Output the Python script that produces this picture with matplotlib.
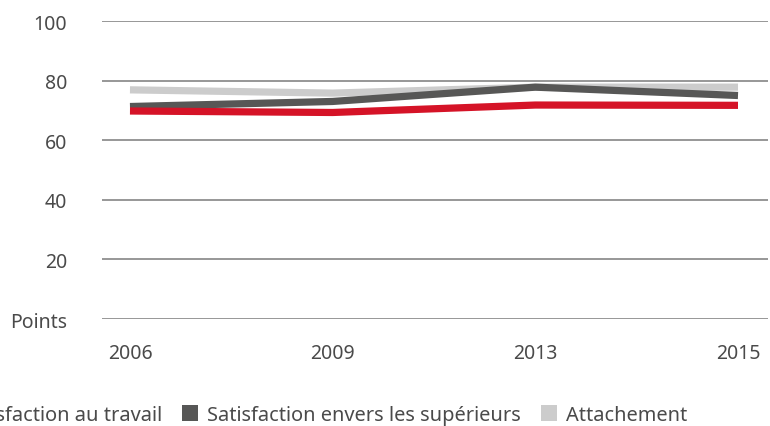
import matplotlib
matplotlib.use("Agg")
import matplotlib.pyplot as plt
from matplotlib.patches import Patch

plt.rcParams['font.family'] = ['Noto Sans', 'DejaVu Sans']

years = ['2006', '2009', '2013', '2015']
travail = [69.8, 69.3, 71.8, 71.7]
superieurs = [71.3, 73.0, 77.8, 75.0]
attachement = [76.9, 75.8, 77.8, 77.8]

series_names = ['Satisfaction au travail', 'Satisfaction envers les supérieurs', 'Attachement']
colors = ['#d51327', '#575756', '#cccccc']

text_color = '#4a4a4a'

fig = plt.figure(figsize=(7.70, 4.27), dpi=100)
ax = fig.add_axes([102 / 770, 1 - 320 / 427, 666 / 770, 298 / 427])

x = range(len(years))
# lightest line first so the others sit on top of it
ax.plot(x, attachement, color=colors[2], lw=5.2, solid_capstyle='butt', zorder=3)
ax.plot(x, superieurs, color=colors[1], lw=5.2, solid_capstyle='butt', zorder=4)
ax.plot(x, travail, color=colors[0], lw=5.2, solid_capstyle='butt', zorder=5)

ax.set_xlim(-0.138, 3.148)
ax.set_ylim(0, 100)
ax.set_yticks([0, 20, 40, 60, 80, 100])
ax.set_yticklabels(['Points', '20', '40', '60', '80', '100'])
ax.set_xticks(list(x))
ax.set_xticklabels(years)
ax.yaxis.grid(True, color='#7a7a7a', lw=1.1)
ax.set_axisbelow(True)
for s in ax.spines.values():
    s.set_visible(False)
ax.tick_params(axis='both', length=0, labelsize=14, labelcolor=text_color)
ax.tick_params(axis='y', pad=25)
ax.tick_params(axis='x', pad=17)

handles = [Patch(facecolor=c, edgecolor='none') for c in colors]
leg_y = 0.026
leg = fig.legend(handles, series_names, ncol=3, loc='center left',
                 bbox_to_anchor=(0, leg_y), frameon=False, fontsize=14.4,
                 labelcolor=text_color, handlelength=0.8, handleheight=0.8,
                 handletextpad=0.45, columnspacing=1.0, borderaxespad=0)

# slide the legend left so the second label starts at x = 207 px
fig.canvas.draw()
x_second = leg.get_texts()[1].get_window_extent().x0
shift = (207 - x_second) / fig.bbox.width
leg.set_bbox_to_anchor((shift, leg_y), transform=fig.transFigure)

fig.savefig('out.png', dpi=100)
